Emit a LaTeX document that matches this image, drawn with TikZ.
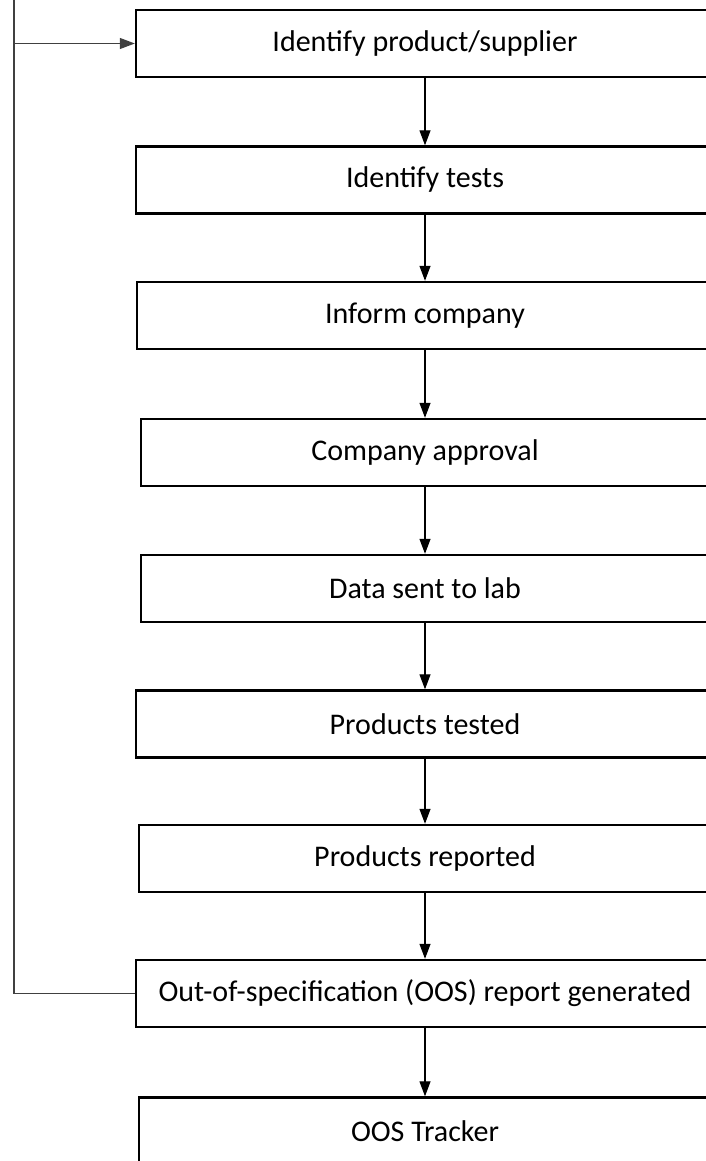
\documentclass[tikz,border=0pt]{standalone}
\usepackage{fontspec}
\setmainfont{Carlito}
\usetikzlibrary{arrows.meta}
\begin{document}
\begin{tikzpicture}[x=1pt,y=-1pt,
  stepbox/.style={draw=black, line width=2.4pt, rectangle, minimum height=67pt, inner sep=0pt, font=\fontsize{30}{36}\selectfont},
  flow/.style={draw=black, line width=1.2pt, -{Triangle[length=15pt,width=11pt]}},
  loop/.style={draw=black!75, line width=1.2pt, -{Triangle[length=15pt,width=11pt]}}]
\useasboundingbox (0,0) rectangle (705,1161);
\node[stepbox, minimum width=578pt] (n1) at (425,43.5) {Identify product/supplier};
\node[stepbox, minimum width=578pt] (n2) at (425,180) {Identify tests};
\node[stepbox, minimum width=576pt] (n3) at (425,315.5) {Inform company};
\node[stepbox, minimum width=568pt] (n4) at (425,452.5) {Company approval};
\node[stepbox, minimum width=568pt] (n5) at (425,588.5) {Data sent to lab};
\node[stepbox, minimum width=578pt] (n6) at (425,724) {Products tested};
\node[stepbox, minimum width=572pt] (n7) at (425,858.5) {Products reported};
\node[stepbox, minimum width=578pt] (n8) at (425,993.5) {Out-of-specification (OOS) report generated};
\node[stepbox, minimum width=572pt] (n9) at (425,1131) {OOS Tracker};
\draw[flow] (n1.south) -- (n2.north);
\draw[flow] (n2.south) -- (n3.north);
\draw[flow] (n3.south) -- (n4.north);
\draw[flow] (n4.south) -- (n5.north);
\draw[flow] (n5.south) -- (n6.north);
\draw[flow] (n6.south) -- (n7.north);
\draw[flow] (n7.south) -- (n8.north);
\draw[flow] (n8.south) -- (n9.north);
\coordinate (lx) at (14,0);
\draw[loop] (n8.west) -| (lx) |- (n1.west);
\end{tikzpicture}
\end{document}
